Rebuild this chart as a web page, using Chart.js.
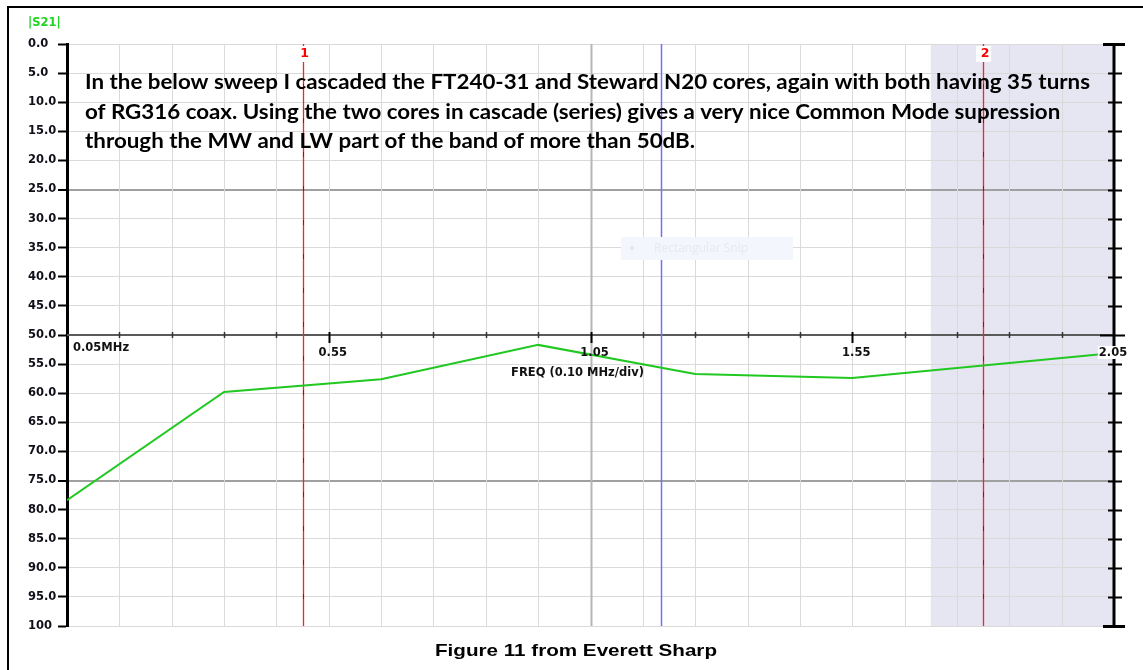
<!DOCTYPE html>
<html>
<head>
<meta charset="utf-8">
<script src="https://cdn.jsdelivr.net/npm/chart.js@4/dist/chart.umd.min.js"></script>
<style>
  html, body { margin: 0; padding: 0; background: #fff; }
  #wrap { width: 1143px; height: 670px; }
</style>
</head>
<body>
<div id="wrap"><canvas id="s21Chart" width="1143" height="670"></canvas></div>
<script>
// --- |S21| 스윕 (FT240-31 + Steward N20 캐스케이드) ---

// 측정 포인트 (MHz, dB)
const freqMHz = [0.05, 0.35, 0.65, 0.95, 1.25, 1.55, 2.05];
const s21dB   = [78.4, 59.8, 57.6, 51.7, 56.7, 57.4, 53.1];

// 축 눈금
const yTicks = [0, 5, 10, 15, 20, 25, 30, 35, 40, 45, 50, 55, 60, 65, 70, 75, 80, 85, 90, 95, 100];
const yTickLabels = ['0.0', '5.0', '10.0', '15.0', '20.0', '25.0', '30.0', '35.0', '40.0', '45.0', '50.0',
                     '55.0', '60.0', '65.0', '70.0', '75.0', '80.0', '85.0', '90.0', '95.0', '100'];
const xTicks = [0.05, 0.15, 0.25, 0.35, 0.45, 0.55, 0.65, 0.75, 0.85, 0.95, 1.05,
                1.15, 1.25, 1.35, 1.45, 1.55, 1.65, 1.75, 1.85, 1.95, 2.05];
const xLabelVals = [0.05, 0.55, 1.05, 1.55, 2.05];
const xLabelText = ['0.05MHz', '0.55', '1.05', '1.55', '2.05'];

// 마커 / 커서 / 음영 구간
const markerFreqs = [0.50, 1.80];
const markerNames = ['1', '2'];
const cursorFreq = 1.185;
const shadeRange = [1.70, 2.05];

const noteLines = [
    'In the below sweep I cascaded the FT240-31 and Steward N20 cores, again with both having 35 turns',
    'of RG316 coax. Using the two cores in cascade (series) gives a very nice Common Mode supression',
    'through the MW and LW part of the band of more than 50dB.'
];
const captionText = 'Figure 11 from Everett Sharp';

const smallFont = 'bold 11.5px "DejaVu Sans"';

// 배경: 음영 구간
const shadePlugin = {
    id: 'shade',
    beforeDraw(chart) {
        const {ctx, chartArea: a, scales: {x}} = chart;
        const x0 = x.getPixelForValue(shadeRange[0]);
        const x1 = x.getPixelForValue(shadeRange[1]);
        ctx.save();
        ctx.fillStyle = '#e6e6f2';
        ctx.fillRect(x0, a.top, x1 - x0, a.bottom - a.top);
        ctx.restore();
    }
};

// 세로 그리드, 가운데 주파수 축, 오른쪽 축
const gridPlugin = {
    id: 'vnaGrid',
    beforeDatasetsDraw(chart) {
        const {ctx, chartArea: a, scales: {x, y}} = chart;
        ctx.save();
        // 세로 그리드
        xTicks.forEach((v, i) => {
            if (i === 0 || i === xTicks.length - 1) return;
            const px = Math.round(x.getPixelForValue(v)) + 0.5;
            const center = Math.abs(v - 1.05) < 1e-6;
            ctx.strokeStyle = center ? '#b6b6b6' : '#dadada';
            ctx.lineWidth = center ? 2 : 1;
            ctx.beginPath(); ctx.moveTo(px, a.top); ctx.lineTo(px, a.bottom); ctx.stroke();
        });
        // 가운데 주파수 축 (50 dB)
        const ay = Math.round(y.getPixelForValue(50));
        ctx.strokeStyle = '#5a5a5a';
        ctx.lineWidth = 2;
        ctx.beginPath(); ctx.moveTo(a.left, ay); ctx.lineTo(a.right, ay); ctx.stroke();
        xTicks.forEach((v, i) => {
            if (i === 0 || i === xTicks.length - 1) return;
            const px = Math.round(x.getPixelForValue(v)) + 0.5;
            const major = xLabelVals.some(lv => Math.abs(lv - v) < 1e-6);
            ctx.strokeStyle = major ? '#000' : '#333';
            ctx.lineWidth = major ? 2 : 1.5;
            ctx.beginPath();
            ctx.moveTo(px, ay - 3);
            ctx.lineTo(px, ay + (major ? 8 : 3));
            ctx.stroke();
        });
        // 오른쪽 축 (I 모양)
        const rx = a.right;
        ctx.strokeStyle = '#000';
        ctx.lineWidth = 3;
        ctx.beginPath(); ctx.moveTo(rx, a.top); ctx.lineTo(rx, a.bottom); ctx.stroke();
        yTicks.forEach(v => {
            const py = Math.round(y.getPixelForValue(v)) + 0.5;
            ctx.beginPath();
            if (v === 0 || v === 100) {
                ctx.lineWidth = 3; ctx.moveTo(rx - 11, py); ctx.lineTo(rx + 11, py);
            } else if (v === 50) {
                ctx.lineWidth = 2; ctx.moveTo(rx - 14, py); ctx.lineTo(rx + 11, py);
            } else {
                ctx.lineWidth = 2; ctx.moveTo(rx - 6, py); ctx.lineTo(rx + 8, py);
            }
            ctx.stroke();
        });
        // 커서 (파란 선)
        const cx = Math.round(x.getPixelForValue(cursorFreq)) + 0.5;
        ctx.strokeStyle = '#7070ff';
        ctx.lineWidth = 1.5;
        ctx.beginPath(); ctx.moveTo(cx, a.top); ctx.lineTo(cx, a.bottom); ctx.stroke();
        // 마커 (빨간 선 + 검은 점선)
        markerFreqs.forEach(f => {
            const mx = Math.round(x.getPixelForValue(f)) + 0.5;
            ctx.setLineDash([]);
            ctx.strokeStyle = '#ff2020';
            ctx.lineWidth = 1.3;
            ctx.beginPath(); ctx.moveTo(mx, a.top); ctx.lineTo(mx, a.bottom); ctx.stroke();
            ctx.setLineDash([5, 29]);
            ctx.lineDashOffset = -6;
            ctx.strokeStyle = 'rgba(30,30,30,0.6)';
            ctx.lineWidth = 1;
            ctx.beginPath(); ctx.moveTo(mx, a.top); ctx.lineTo(mx, a.bottom); ctx.stroke();
        });
        ctx.setLineDash([]);
        // 캡처 도구 흔적
        ctx.fillStyle = '#f3f6fd';
        ctx.fillRect(621, 237, 172, 23);
        ctx.fillStyle = '#e2e6ef';
        ctx.beginPath(); ctx.arc(632, 248, 2, 0, Math.PI * 2); ctx.fill();
        ctx.font = '12px "Open Sans"';
        ctx.textBaseline = 'middle';
        ctx.fillStyle = '#e6e9f0';
        ctx.fillText('Rectangular Snip', 654, 249);
        ctx.restore();
    }
};

// 텍스트: 라벨, 설명문, 캡션, 외곽선
const textPlugin = {
    id: 'texts',
    afterDraw(chart) {
        const {ctx, chartArea: a, scales: {x, y}} = chart;
        ctx.save();
        // 주파수 라벨
        ctx.font = smallFont;
        ctx.textBaseline = 'middle';
        const ay = y.getPixelForValue(50);
        xLabelVals.forEach((v, i) => {
            const px = x.getPixelForValue(v);
            const t = xLabelText[i];
            if (i === 0) {
                ctx.textAlign = 'left';
                ctx.fillStyle = '#111';
                ctx.fillText(t, px + 6, ay + 13);
            } else {
                const w = ctx.measureText(t).width;
                const cxp = i === xLabelVals.length - 1 ? px - 1 : px + 4;
                if (i === xLabelVals.length - 1) {
                    ctx.fillStyle = '#fff';
                    ctx.fillRect(cxp - w / 2 - 1, ay + 11, w + 2, 13);
                }
                ctx.textAlign = 'center';
                ctx.fillStyle = '#111';
                ctx.fillText(t, cxp, ay + 18);
            }
        });
        ctx.textAlign = 'center';
        ctx.fillText('FREQ (0.10 MHz/div)', x.getPixelForValue(1.05) - 13, ay + 38);

        // |S21|
        ctx.textAlign = 'left';
        ctx.fillStyle = '#22d422';
        ctx.fillText('|S21|', 28, 23);

        // 마커 번호
        ctx.font = 'bold 12.5px "DejaVu Sans"';
        markerFreqs.forEach((f, i) => {
            const mx = x.getPixelForValue(f);
            ctx.fillStyle = '#fff';
            ctx.fillRect(mx - 7, a.top + 2, 15, 16);
            ctx.fillStyle = '#ff0000';
            ctx.textAlign = 'center';
            ctx.fillText(markerNames[i], mx + 2, a.top + 10);
        });

        // 설명문
        ctx.fillStyle = '#000';
        ctx.textAlign = 'left';
        ctx.textBaseline = 'alphabetic';
        ctx.font = 'bold 20px Lato';
        const sx = 1005 / ctx.measureText(noteLines[0]).width;
        const baselines = [89, 118.5, 148];
        noteLines.forEach((line, i) => {
            ctx.save();
            ctx.translate(85, baselines[i]);
            ctx.scale(sx, 1);
            ctx.fillText(line, 0, 0);
            ctx.restore();
        });

        // 캡션
        ctx.font = 'bold 17px "Liberation Sans"';
        const cw = ctx.measureText(captionText).width;
        const csx = 282 / cw;
        ctx.save();
        ctx.translate(576, 655.5);
        ctx.scale(csx, 1);
        ctx.textAlign = 'center';
        ctx.fillText(captionText, 0, 0);
        ctx.restore();

        // 외곽선
        ctx.fillStyle = '#000';
        ctx.fillRect(7, 6, 1136, 2);
        ctx.fillRect(7, 6, 2, 664);
        ctx.restore();
    }
};

const ctx = document.getElementById('s21Chart').getContext('2d');
new Chart(ctx, {
    type: 'line',
    data: {
        datasets: [{
            label: '|S21|',
            data: freqMHz.map((f, i) => ({x: f, y: s21dB[i]})),
            borderColor: '#21c821',
            borderWidth: 2,
            pointRadius: 0,
            tension: 0,
            fill: false
        }]
    },
    options: {
        responsive: false,
        animation: false,
        devicePixelRatio: 1,
        layout: { padding: { left: 28, right: 29, top: 44, bottom: 44 } },
        plugins: {
            legend: { display: false },
            tooltip: { enabled: false }
        },
        scales: {
            x: {
                type: 'linear',
                min: 0.05,
                max: 2.05,
                display: false,
                afterBuildTicks: s => { s.ticks = xTicks.map(v => ({value: v})); }
            },
            y: {
                type: 'linear',
                min: 0,
                max: 100,
                reverse: true,
                position: 'left',
                afterBuildTicks: s => { s.ticks = yTicks.map(v => ({value: v})); },
                afterFit: s => { s.width = 39; },
                border: { color: '#000', width: 3 },
                grid: {
                    color: c => (c.tick && (c.tick.value === 25 || c.tick.value === 75)) ? '#a0a0a0' : '#dadada',
                    lineWidth: c => (c.tick && (c.tick.value === 25 || c.tick.value === 75)) ? 2 : 1,
                    tickColor: '#000',
                    tickWidth: 2,
                    tickLength: 9
                },
                ticks: {
                    autoSkip: false,
                    crossAlign: 'far',
                    color: '#10101a',
                    font: { family: 'DejaVu Sans', size: 11.5, weight: 'bold' },
                    callback: (v, i) => yTickLabels[i]
                }
            }
        }
    },
    plugins: [shadePlugin, gridPlugin, textPlugin]
});
</script>
</body>
</html>
